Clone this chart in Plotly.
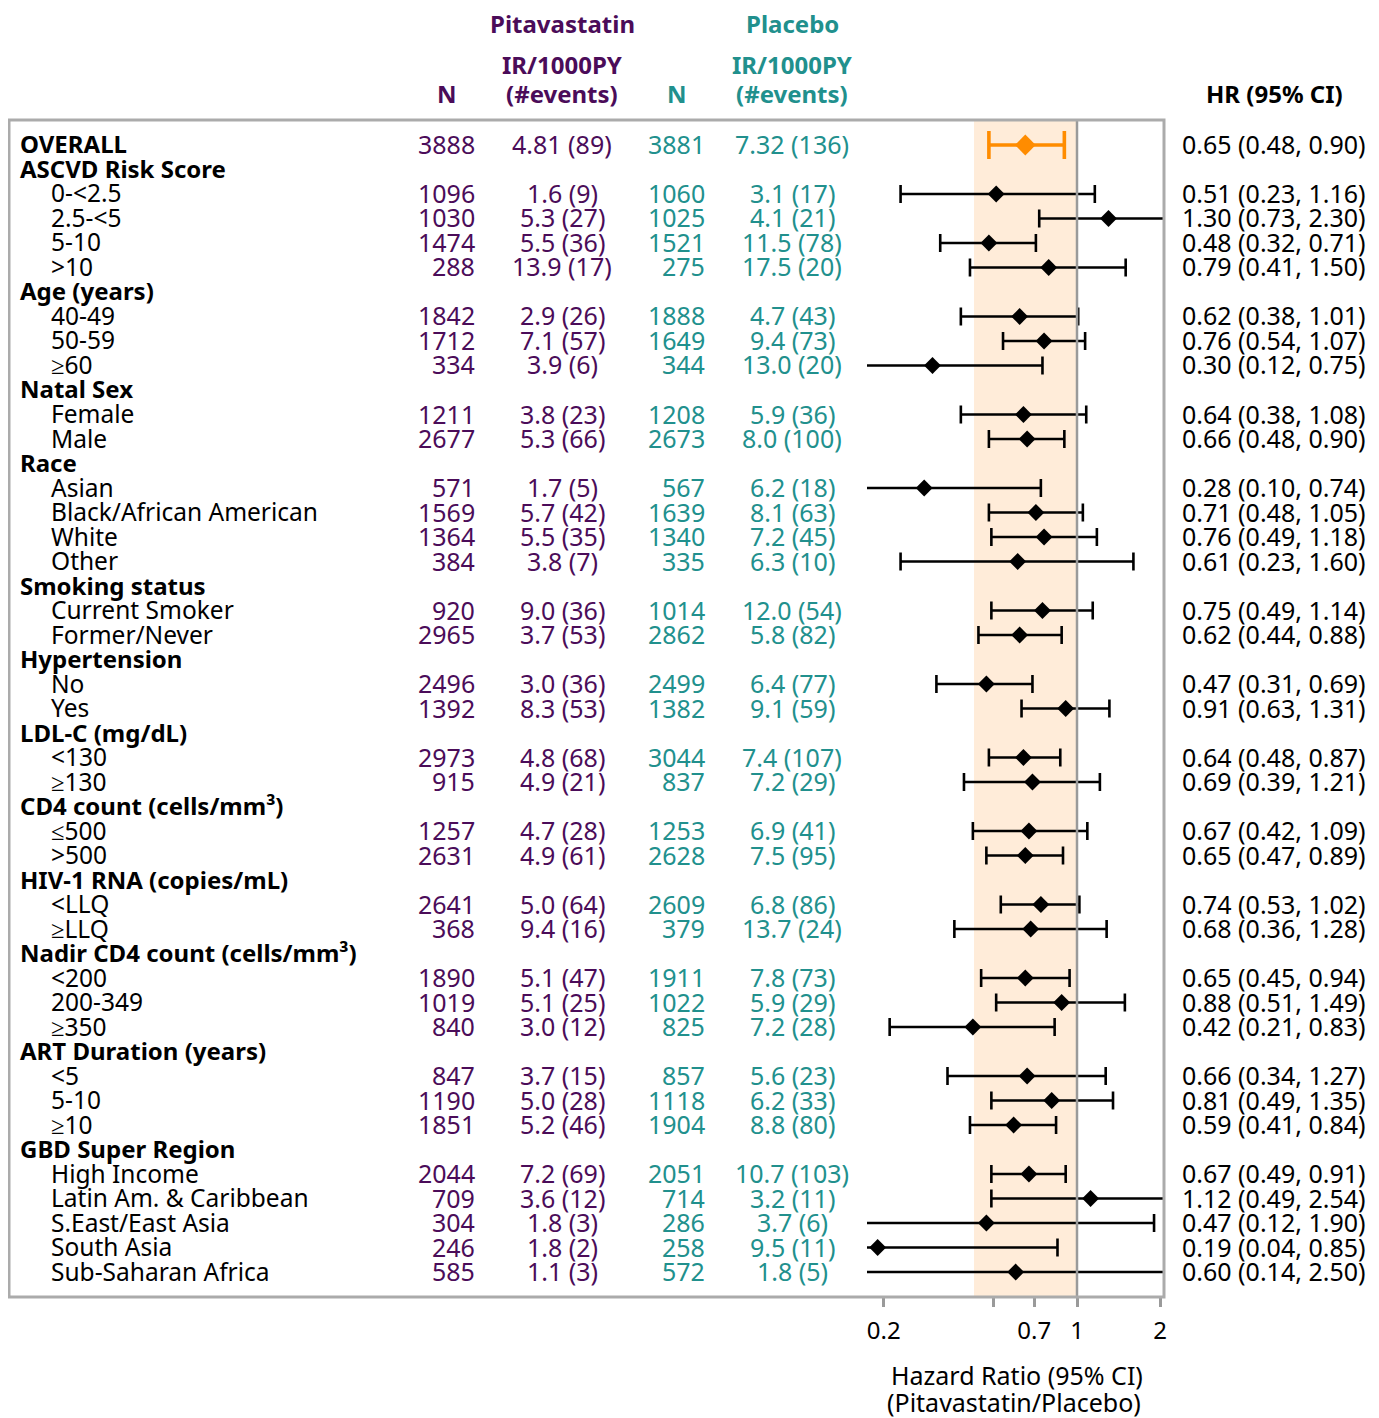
import plotly.graph_objects as go

# ---------------- data ----------------
labels = ["OVERALL", "ASCVD Risk Score", "0-<2.5", "2.5-<5", "5-10", ">10",
          "Age (years)", "40-49", "50-59", "≥60",
          "Natal Sex", "Female", "Male",
          "Race", "Asian", "Black/African American", "White", "Other",
          "Smoking status", "Current Smoker", "Former/Never",
          "Hypertension", "No", "Yes",
          "LDL-C (mg/dL)", "<130", "≥130",
          "CD4 count (cells/mm³)", "≤500", ">500",
          "HIV-1 RNA (copies/mL)", "<LLQ", "≥LLQ",
          "Nadir CD4 count (cells/mm³)", "<200", "200-349", "≥350",
          "ART Duration (years)", "<5", "5-10", "≥10",
          "GBD Super Region", "High Income", "Latin Am. & Caribbean",
          "S.East/East Asia", "South Asia", "Sub-Saharan Africa"]

is_header = [True, True, False, False, False, False,
             True, False, False, False,
             True, False, False,
             True, False, False, False, False,
             True, False, False,
             True, False, False,
             True, False, False,
             True, False, False,
             True, False, False,
             True, False, False, False,
             True, False, False, False,
             True, False, False, False, False, False]

pit_n = [3888, None, 1096, 1030, 1474, 288,
         None, 1842, 1712, 334,
         None, 1211, 2677,
         None, 571, 1569, 1364, 384,
         None, 920, 2965,
         None, 2496, 1392,
         None, 2973, 915,
         None, 1257, 2631,
         None, 2641, 368,
         None, 1890, 1019, 840,
         None, 847, 1190, 1851,
         None, 2044, 709, 304, 246, 585]

pit_ir = ["4.81 (89)", None, "1.6 (9)", "5.3 (27)", "5.5 (36)", "13.9 (17)",
          None, "2.9 (26)", "7.1 (57)", "3.9 (6)",
          None, "3.8 (23)", "5.3 (66)",
          None, "1.7 (5)", "5.7 (42)", "5.5 (35)", "3.8 (7)",
          None, "9.0 (36)", "3.7 (53)",
          None, "3.0 (36)", "8.3 (53)",
          None, "4.8 (68)", "4.9 (21)",
          None, "4.7 (28)", "4.9 (61)",
          None, "5.0 (64)", "9.4 (16)",
          None, "5.1 (47)", "5.1 (25)", "3.0 (12)",
          None, "3.7 (15)", "5.0 (28)", "5.2 (46)",
          None, "7.2 (69)", "3.6 (12)", "1.8 (3)", "1.8 (2)", "1.1 (3)"]

pl_n = [3881, None, 1060, 1025, 1521, 275,
        None, 1888, 1649, 344,
        None, 1208, 2673,
        None, 567, 1639, 1340, 335,
        None, 1014, 2862,
        None, 2499, 1382,
        None, 3044, 837,
        None, 1253, 2628,
        None, 2609, 379,
        None, 1911, 1022, 825,
        None, 857, 1118, 1904,
        None, 2051, 714, 286, 258, 572]

pl_ir = ["7.32 (136)", None, "3.1 (17)", "4.1 (21)", "11.5 (78)", "17.5 (20)",
         None, "4.7 (43)", "9.4 (73)", "13.0 (20)",
         None, "5.9 (36)", "8.0 (100)",
         None, "6.2 (18)", "8.1 (63)", "7.2 (45)", "6.3 (10)",
         None, "12.0 (54)", "5.8 (82)",
         None, "6.4 (77)", "9.1 (59)",
         None, "7.4 (107)", "7.2 (29)",
         None, "6.9 (41)", "7.5 (95)",
         None, "6.8 (86)", "13.7 (24)",
         None, "7.8 (73)", "5.9 (29)", "7.2 (28)",
         None, "5.6 (23)", "6.2 (33)", "8.8 (80)",
         None, "10.7 (103)", "3.2 (11)", "3.7 (6)", "9.5 (11)", "1.8 (5)"]

hr = [0.65, None, 0.51, 1.30, 0.48, 0.79,
      None, 0.62, 0.76, 0.30,
      None, 0.64, 0.66,
      None, 0.28, 0.71, 0.76, 0.61,
      None, 0.75, 0.62,
      None, 0.47, 0.91,
      None, 0.64, 0.69,
      None, 0.67, 0.65,
      None, 0.74, 0.68,
      None, 0.65, 0.88, 0.42,
      None, 0.66, 0.81, 0.59,
      None, 0.67, 1.12, 0.47, 0.19, 0.60]

ci_lo = [0.48, None, 0.23, 0.73, 0.32, 0.41,
         None, 0.38, 0.54, 0.12,
         None, 0.38, 0.48,
         None, 0.10, 0.48, 0.49, 0.23,
         None, 0.49, 0.44,
         None, 0.31, 0.63,
         None, 0.48, 0.39,
         None, 0.42, 0.47,
         None, 0.53, 0.36,
         None, 0.45, 0.51, 0.21,
         None, 0.34, 0.49, 0.41,
         None, 0.49, 0.49, 0.12, 0.04, 0.14]

ci_hi = [0.90, None, 1.16, 2.30, 0.71, 1.50,
         None, 1.01, 1.07, 0.75,
         None, 1.08, 0.90,
         None, 0.74, 1.05, 1.18, 1.60,
         None, 1.14, 0.88,
         None, 0.69, 1.31,
         None, 0.87, 1.21,
         None, 1.09, 0.89,
         None, 1.02, 1.28,
         None, 0.94, 1.49, 0.83,
         None, 1.27, 1.35, 0.84,
         None, 0.91, 2.54, 1.90, 0.85, 2.50]

tick_vals = [0.2, 0.5, 0.7, 1, 2]
tick_text = ["0.2", "", "0.7", "1", "2"]
band_lo, band_hi = 0.424, 1.0

# ---------------- styling ----------------
W, H = 1379, 1418
OFF = 8  # page body offset
ML, MR, MT, MB = 1, 223, 112, 129
PW = W - ML - MR
PH = H - MT - MB
FONT = "Noto Sans"
FS_BOLD = 24
FS_LAB = 24.5
FS_NUM = 25
FS_AX = 25
PURPLE = "#4b0c59"
TEAL = "#21908d"
ORANGE = "#ff8c00"

def px(xp):
    return (xp - OFF - ML) / PW

def py(yp):
    return 1 + (MT + OFF - yp) / PH

x_left_px, x_right_px, one_px, decade_px = 867, 1164, 1077, 276.4
xrange_ = [(x_left_px - one_px) / decade_px, (x_right_px - one_px) / decade_px]
n_rows = len(labels)
pad = 1.02

fig = go.Figure()

idx = [i for i in range(1, n_rows) if hr[i] is not None]
fig.add_trace(go.Scatter(
    x=[hr[i] for i in idx], y=idx, mode="markers",
    marker=dict(symbol="diamond", size=13, color="black"),
    error_x=dict(type="data", symmetric=False,
                 array=[ci_hi[i] - hr[i] for i in idx],
                 arrayminus=[hr[i] - ci_lo[i] for i in idx],
                 color="black", thickness=2.6, width=9),
    cliponaxis=False, showlegend=False, hoverinfo="skip"))

fig.add_trace(go.Scatter(
    x=[hr[0]], y=[0], mode="markers",
    marker=dict(symbol="diamond", size=16, color=ORANGE),
    error_x=dict(type="data", symmetric=False,
                 array=[ci_hi[0] - hr[0]], arrayminus=[hr[0] - ci_lo[0]],
                 color=ORANGE, thickness=3.6, width=14),
    cliponaxis=False, showlegend=False, hoverinfo="skip"))

shapes = [
    dict(type="rect", xref="x", yref="paper", x0=band_lo, x1=band_hi, y0=0, y1=1,
         fillcolor="#ffecd9", line=dict(width=0), layer="below"),
    dict(type="line", xref="x", yref="paper", x0=1, x1=1, y0=0, y1=1,
         line=dict(color="#9a9a9a", width=2.5), layer="above"),
    dict(type="rect", xref="paper", yref="paper", x0=0, x1=1, y0=0, y1=1,
         line=dict(color="#ababab", width=3), layer="above"),
]

ann = []
def add(text, x, y, xanchor, color="black", bold=False, yref="y", size=FS_LAB, yshift=0):
    t = f"<b>{text}</b>" if bold else text
    ann.append(dict(text=t, x=x, y=y, xref="paper", yref=yref, xanchor=xanchor,
                    yanchor="middle", showarrow=False, yshift=yshift,
                    font=dict(family=FONT, size=size, color=color)))

for i in range(n_rows):
    if is_header[i]:
        add(labels[i], px(18), i, "left", bold=True, size=FS_BOLD, yshift=1)
    else:
        add(labels[i], px(49), i, "left", size=FS_LAB, yshift=1)
    if pit_n[i] is not None:
        add(str(pit_n[i]), px(477), i, "right", PURPLE, size=FS_NUM, yshift=1)
        add(pit_ir[i], px(562), i, "center", PURPLE, size=FS_NUM, yshift=1)
        add(str(pl_n[i]), px(707), i, "right", TEAL, size=FS_NUM, yshift=1)
        add(pl_ir[i], px(792), i, "center", TEAL, size=FS_NUM, yshift=1)
        add(f"{hr[i]:.2f} ({ci_lo[i]:.2f}, {ci_hi[i]:.2f})", px(1368), i, "right",
            size=FS_NUM, yshift=1)

add("Pitavastatin", px(562), py(24), "center", PURPLE, True, "paper", FS_BOLD)
add("Placebo", px(792), py(24), "center", TEAL, True, "paper", FS_BOLD)
add("IR/1000PY", px(562), py(64), "center", PURPLE, True, "paper", FS_BOLD)
add("(#events)", px(562), py(93), "center", PURPLE, True, "paper", FS_BOLD)
add("IR/1000PY", px(792), py(64), "center", TEAL, True, "paper", FS_BOLD)
add("(#events)", px(792), py(93), "center", TEAL, True, "paper", FS_BOLD)
add("N", px(447), py(93), "center", PURPLE, True, "paper", FS_BOLD)
add("N", px(677), py(93), "center", TEAL, True, "paper", FS_BOLD)
add("HR (95% CI)", px(1274), py(93), "center", "black", True, "paper", FS_BOLD)
add("Hazard Ratio (95% CI)", px(1017), py(1375), "center", "black", False, "paper", FS_AX)
add("(Pitavastatin/Placebo)", px(1014), py(1402), "center", "black", False, "paper", FS_AX)

fig.update_layout(
    width=W, height=H,
    margin=dict(l=ML, r=MR, t=MT, b=MB, pad=0),
    paper_bgcolor="white", plot_bgcolor="rgba(0,0,0,0)",
    font=dict(family=FONT, size=FS_LAB, color="black"),
    shapes=shapes, annotations=ann,
    xaxis=dict(type="log", domain=[px(x_left_px), 1], range=xrange_,
               tickvals=tick_vals, ticktext=tick_text,
               ticks="outside", ticklen=9, tickwidth=2.5, tickcolor="#9a9a9a",
               ticklabelstandoff=3,
               showgrid=False, zeroline=False, showline=False,
               tickfont=dict(family=FONT, size=24, color="black")),
    yaxis=dict(range=[n_rows - 1 + pad, -pad], visible=False,
               showgrid=False, zeroline=False),
)

fig.write_html("out.html")
